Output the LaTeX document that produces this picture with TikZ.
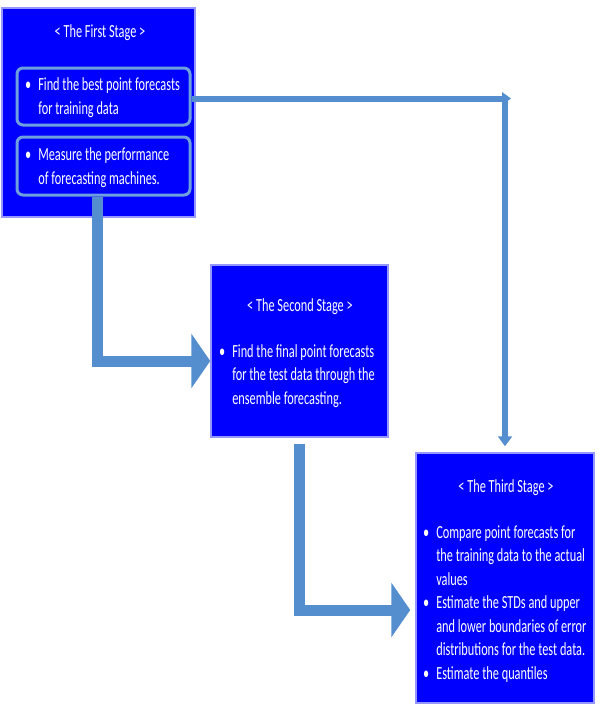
\documentclass[tikz,border=0pt]{standalone}
\usepackage{fontspec}
\setmainfont[FakeStretch=0.665]{Carlito}
\usetikzlibrary{arrows.meta}

\definecolor{stageblue}{RGB}{0,0,255}
\definecolor{stageedge}{RGB}{150,150,255}
\definecolor{itemedge}{RGB}{110,160,222}
\definecolor{flowblue}{RGB}{84,142,206}

\newcommand{\bulletlist}[1]{\begin{tabular}{@{}l@{\hspace{7pt}}l@{}}#1\end{tabular}}

\begin{document}
\begin{tikzpicture}[x=1pt,y=-1pt,line width=.35pt,font=\fontsize{18.5}{23.5}\selectfont,
  stage/.style={draw=stageedge,line width=1.5pt,fill=stageblue,inner sep=0pt},
  itembox/.style={draw=itemedge,line width=3pt,fill=stageblue,rounded corners=6pt,inner sep=0pt},
  stagetxt/.style={text=white,inner sep=0pt},
  thinflow/.style={draw=flowblue,line width=6pt,line join=miter,-{Triangle[length=10pt,width=14pt]}},
  bigflow/.style={draw=flowblue,line width=11pt,line join=miter,-{Triangle[length=19pt,width=54pt]}}]
\useasboundingbox (0,0) rectangle (603,712);
\node[stage,minimum width=193pt,minimum height=209pt] (s1) at (98.5,112.5) {};
\node[stage,minimum width=177pt,minimum height=172pt] (s2) at (299.5,351) {};
\node[stage,minimum width=178pt,minimum height=250pt] (s3) at (505,578) {};
\node[itembox,minimum width=173pt,minimum height=57pt] (in1) at (103.5,96.5) {};
\node[itembox,minimum width=173pt,minimum height=58pt] (in2) at (103.5,166) {};
\node[stagetxt] (h1) at (100,33) {< The First Stage >};
\node[stagetxt] (h2) at (300,307) {< The Second Stage >};
\node[stagetxt] (h3) at (506,488) {< The Third Stage >};
\node[stagetxt,anchor=west] (t1) at (25,98) {\bulletlist{\textbullet & Find the best point forecasts\\ & for training data}};
\node[stagetxt,anchor=west] (t2) at (25,168) {\bulletlist{\textbullet & Measure the performance\\ & of forecasting machines.}};
\node[stagetxt,anchor=west] (t3) at (219,376) {\bulletlist{\textbullet & Find the final point forecasts\\ & for the test data through the\\ & ensemble forecasting.}};
\node[stagetxt,anchor=west] (t4) at (423,604) {\bulletlist{\textbullet & Compare point forecasts for\\ & the training data to the actual\\ & values\\
  \textbullet & Estimate the STDs and upper\\ & and lower boundaries of error\\ & distributions for the test data.\\
  \textbullet & Estimate the quantiles}};
\coordinate (bend) at (s3.north |- 0,98.5);
\draw[thinflow] ([yshift=-2pt]in1.east) -| ([yshift=6pt]s3.north);
\fill[flowblue] ([shift={(-3,-6.5)}]bend) -- ([shift={(6,0)}]bend) -- ([shift={(-3,6.5)}]bend) -- cycle;
\draw[bigflow] ([xshift=-6pt]in2.south) |- ([yshift=-10pt]s2.west);
\draw[bigflow] ([yshift=-6pt]s2.south) |- ([xshift=-5pt,yshift=-32pt]s3.west);
\end{tikzpicture}
\end{document}
